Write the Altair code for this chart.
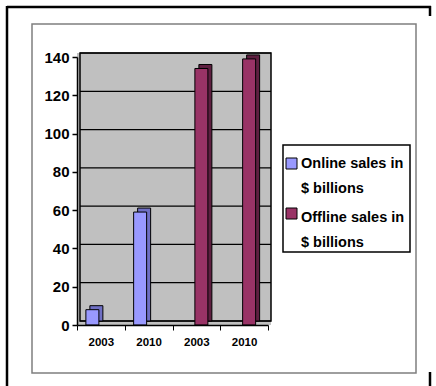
import altair as alt
import pandas as pd

# ---- data ----
years = ["2003", "2010", "2003", "2010"]
series = ["Online sales in $ billions", "Offline sales in $ billions"]
online = [8, 59, None, None]
offline = [None, None, 134, 139]
y_ticks = [0, 20, 40, 60, 80, 100, 120, 140]

front_colors = ["#9999FF", "#993366"]
side_colors = ["#6F6FC4", "#5E1F40"]

rows = []
for i, yr in enumerate(years):
    for s, vals in zip(series, [online, offline]):
        if vals[i] is not None:
            rows.append({"slot": i, "year": yr, "series": s, "value": vals[i]})
df = pd.DataFrame(rows)

legend_df = pd.DataFrame({
    "series": series,
    "idx": list(range(len(series))),
    "lines": [[s.split(" $")[0], "$" + s.split(" $")[1]] for s in series],
    "color": front_colors,
})
tick_df = pd.DataFrame({"tick": y_ticks})

W, H = 191, 268
FONT = "Liberation Sans, Arial"
one = alt.Data(values=[{}])

label_expr = "[" + ",".join(f"'{y}'" for y in years) + "][datum.value]"
x_scale = alt.Scale(domain=list(range(len(years))), paddingInner=0, paddingOuter=0)
y_scale = alt.Scale(domain=[0, 140], nice=False)

x_axis = alt.Axis(title=None, labelExpr=label_expr, labelAngle=0, tickBand="extent",
                  domainColor="black", domainWidth=1.5, tickColor="black", tickSize=5,
                  labelFont=FONT, labelFontSize=11.5, labelFontWeight="bold", labelColor="black",
                  labelPadding=6, grid=False, zindex=1)
y_axis = alt.Axis(title=None, values=y_ticks, domainColor="black", domainWidth=1.5,
                  tickColor="black", tickSize=5, tickWidth=1.5, labelFont=FONT, labelFontSize=15,
                  labelFontWeight="bold", labelColor="black", labelPadding=3, grid=False, zindex=1)

# decorative frames
outer_gray = alt.Chart(one).mark_rect(fillOpacity=0, stroke="#7F7F7F", strokeWidth=1.5).encode(
    x=alt.value(-45), x2=alt.value(339), y=alt.value(-33), y2=alt.value(316))
outer_top = alt.Chart(one).mark_rule(color="black", strokeWidth=2.5).encode(
    x=alt.value(-70), x2=alt.value(354), y=alt.value(-50))
outer_left = alt.Chart(one).mark_rule(color="black", strokeWidth=2.5).encode(
    x=alt.value(-70), y=alt.value(-51), y2=alt.value(330))
outer_rt = alt.Chart(one).mark_rule(color="black", strokeWidth=2.5).encode(
    x=alt.value(353), y=alt.value(-51), y2=alt.value(-41))
outer_rb = alt.Chart(one).mark_rule(color="black", strokeWidth=2.5).encode(
    x=alt.value(353), y=alt.value(315), y2=alt.value(330))

wall = alt.Chart(one).mark_rect(color="#C0C0C0").encode(
    x=alt.value(0), x2=alt.value(W + 3), y=alt.value(-4), y2=alt.value(H))
grid = alt.Chart(tick_df).mark_rule(color="black", strokeWidth=1.2, yOffset=-4).encode(
    y=alt.Y("tick:Q", scale=y_scale, axis=y_axis), x=alt.value(3), x2=alt.value(W + 3))
wall_outline = alt.Chart(one).mark_rect(fillOpacity=0, stroke="black", strokeWidth=1.5).encode(
    x=alt.value(3), x2=alt.value(W + 3), y=alt.value(-4), y2=alt.value(H - 4))

offsets = [-8.5, 5]
layers = [outer_gray, outer_top, outer_left, outer_rt, outer_rb, wall, grid, wall_outline]
for s, fc, sc, off in zip(series, front_colors, side_colors, offsets):
    base = alt.Chart(df).transform_filter(alt.datum.series == s)
    enc = dict(x=alt.X("slot:O", scale=x_scale, axis=x_axis),
               y=alt.Y("value:Q", scale=y_scale, axis=y_axis))
    back = base.mark_bar(width=13, xOffset=off + 4, yOffset=-4, color=sc, stroke="black",
                         strokeWidth=1).encode(**enc)
    front = base.mark_bar(width=13, xOffset=off, color=fc, stroke="black", strokeWidth=1).encode(**enc)
    layers += [back, front]

# legend (drawn as marks)
leg_box = alt.Chart(one).mark_rect(fill="white", stroke="black", strokeWidth=1.5).encode(
    x=alt.value(206), x2=alt.value(333), y=alt.value(88), y2=alt.value(195))
leg_sq = alt.Chart(legend_df).transform_calculate(
    yy="101 + 50 * datum.idx", yy2="112 + 50 * datum.idx").mark_rect(stroke="black", strokeWidth=1).encode(
    x=alt.value(209), x2=alt.value(220),
    y=alt.Y("yy:Q", scale=None), y2="yy2:Q",
    color=alt.Color("color:N", scale=None))
leg_txt = alt.Chart(legend_df).transform_calculate(yy="111 + 54 * datum.idx").mark_text(
    align="left", baseline="alphabetic", font=FONT, fontSize=14.5, fontWeight="bold",
    lineHeight=25, color="black").encode(
    x=alt.value(224), y=alt.Y("yy:Q", scale=None), text="lines")
layers += [leg_box, leg_sq, leg_txt]

chart = alt.layer(*layers).properties(
    width=W, height=H,
    autosize=alt.AutoSizeParams(type="none"),
    padding={"left": 77, "top": 57, "right": 436 - 77 - W, "bottom": 386 - 57 - H},
    background="white",
).configure_view(stroke=None)

chart.save("out.html", embed_options={"renderer": "svg", "actions": False})
